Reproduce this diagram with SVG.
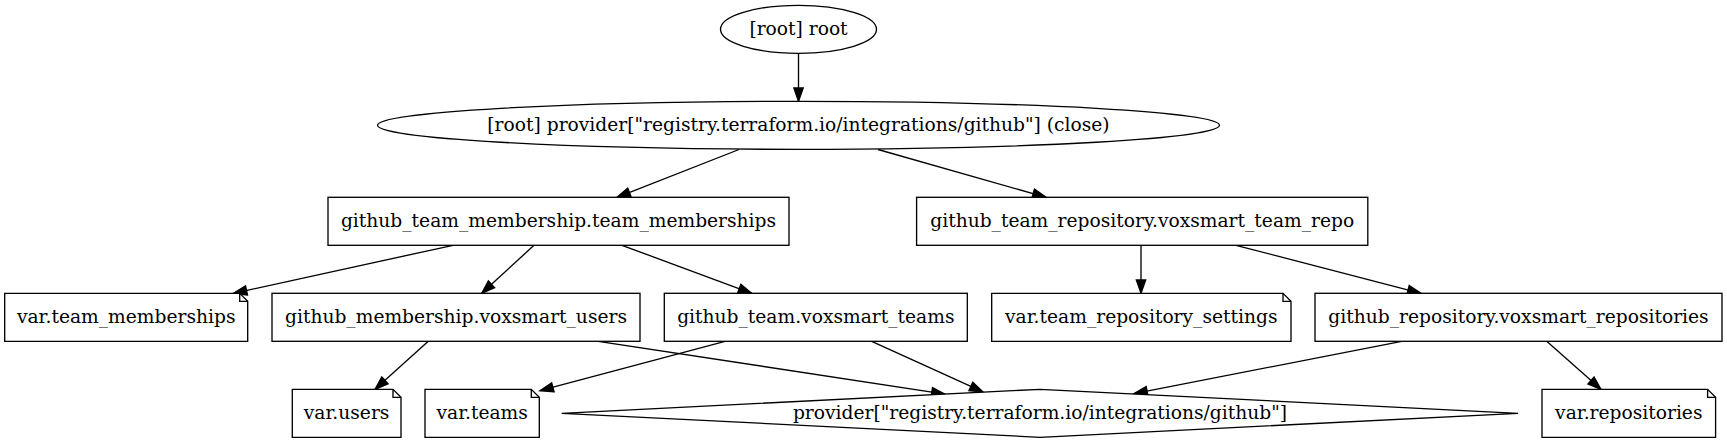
<svg xmlns="http://www.w3.org/2000/svg" width="1727" height="443" viewBox="0 0 1727 443">
<style>
.s{fill:#fff;stroke:#000;stroke-width:1.33}
.f{fill:none;stroke:#000;stroke-width:1.33}
.e{fill:none;stroke:#000;stroke-width:1.33;marker-end:url(#ah)}
text{font-family:"DejaVu Serif","Liberation Serif",serif;font-size:18.67px;text-anchor:middle;fill:#000}
</style>
<defs>
<marker id="ah" markerUnits="userSpaceOnUse" markerWidth="16" markerHeight="12" refX="13.33" refY="0" viewBox="0 -6 16 12" orient="auto" overflow="visible">
<path d="M0,-4.67 L13.33,0 L0,4.67 Z" fill="#000" stroke="#000" stroke-width="1.33"/>
</marker>
</defs>
<rect width="1727" height="443" fill="#fff"/>
<g id="edges">
<path class="e" d="M798.5,53.3 L798.5,101.3"/>
<path class="e" d="M739,149.5 L617,197.3"/>
<path class="e" d="M878,149.5 L1046,197.3"/>
<path class="e" d="M453,245.3 L233.5,293.3"/>
<path class="e" d="M534,245.3 L481.7,293.3"/>
<path class="e" d="M622,245.3 L751.7,293.3"/>
<path class="e" d="M1141,245.3 L1141,293.3"/>
<path class="e" d="M1236,245.3 L1421,293.3"/>
<path class="e" d="M428.3,341.3 L375,389.3"/>
<path class="e" d="M598.3,341.3 L945,394.1"/>
<path class="e" d="M725,341.3 L540,390.7"/>
<path class="e" d="M871.7,341.3 L983,391.9"/>
<path class="e" d="M1401.7,341.3 L1134,393.7"/>
<path class="e" d="M1546.7,341.3 L1601,389.3"/>
</g>
<g id="root">
<ellipse class="s" cx="798.5" cy="29.3" rx="78" ry="24"/>
<text x="798.5" y="35">[root] root</text>
</g>
<g id="provider_close">
<ellipse class="s" cx="798.5" cy="125.3" rx="421" ry="24"/>
<text x="798.5" y="131">[root] provider["registry.terraform.io/integrations/github"] (close)</text>
</g>
<g id="team_membership">
<rect class="s" x="328" y="197.3" width="461" height="48"/>
<text x="558.5" y="227">github_team_membership.team_memberships</text>
</g>
<g id="team_repository">
<rect class="s" x="916.6" y="197.3" width="451.2" height="48"/>
<text x="1142.2" y="227">github_team_repository.voxsmart_team_repo</text>
</g>
<g id="var_team_memberships">
<path class="s" d="M4.7,293.3 L239.7,293.3 L247.7,301.3 L247.7,341.3 L4.7,341.3 Z"/>
<path class="f" d="M239.7,293.3 L239.7,301.3 L247.7,301.3"/>
<text x="126.2" y="323">var.team_memberships</text>
</g>
<g id="membership_users">
<rect class="s" x="272" y="293.3" width="368" height="48"/>
<text x="456" y="323">github_membership.voxsmart_users</text>
</g>
<g id="team_teams">
<rect class="s" x="664.3" y="293.3" width="303" height="48"/>
<text x="815.8" y="323">github_team.voxsmart_teams</text>
</g>
<g id="var_team_repository_settings">
<path class="s" d="M991.7,293.3 L1283,293.3 L1291,301.3 L1291,341.3 L991.7,341.3 Z"/>
<path class="f" d="M1283,293.3 L1283,301.3 L1291,301.3"/>
<text x="1141.3" y="323">var.team_repository_settings</text>
</g>
<g id="repository_repositories">
<rect class="s" x="1315" y="293.3" width="407" height="48"/>
<text x="1518.5" y="323">github_repository.voxsmart_repositories</text>
</g>
<g id="var_users">
<path class="s" d="M292.3,389.3 L393,389.3 L401,397.3 L401,437.3 L292.3,437.3 Z"/>
<path class="f" d="M393,389.3 L393,397.3 L401,397.3"/>
<text x="346.6" y="419">var.users</text>
</g>
<g id="var_teams">
<path class="s" d="M425,389.3 L531.3,389.3 L539.3,397.3 L539.3,437.3 L425,437.3 Z"/>
<path class="f" d="M531.3,389.3 L531.3,397.3 L539.3,397.3"/>
<text x="482.2" y="419">var.teams</text>
</g>
<g id="provider">
<path class="s" d="M561.7,413.3 L1040,389.3 L1518,413.3 L1040,437.3 Z"/>
<text x="1040" y="419">provider["registry.terraform.io/integrations/github"]</text>
</g>
<g id="var_repositories">
<path class="s" d="M1542,389.3 L1707.6,389.3 L1715.6,397.3 L1715.6,437.3 L1542,437.3 Z"/>
<path class="f" d="M1707.6,389.3 L1707.6,397.3 L1715.6,397.3"/>
<text x="1628.8" y="419">var.repositories</text>
</g>
</svg>
